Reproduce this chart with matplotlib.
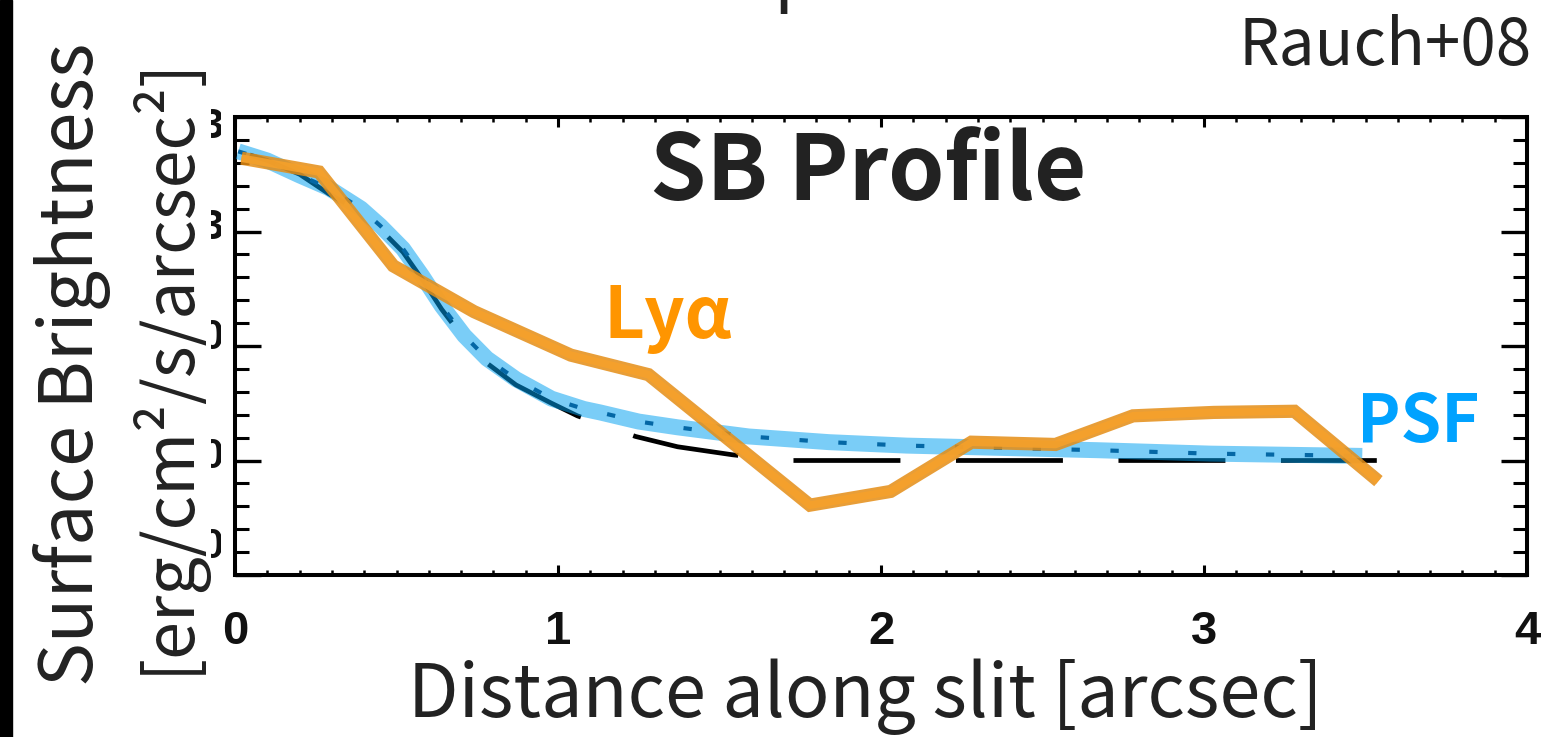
import matplotlib
import matplotlib.pyplot as plt
from matplotlib.patches import Rectangle
from matplotlib.transforms import Bbox

matplotlib.use("Agg")
plt.rcParams["lines.scale_dashes"] = False

W, H = 1542, 737
TEXT_FONT = ["Noto Sans CJK JP", "DejaVu Sans"]
TICK_FONT = ["Liberation Sans", "DejaVu Sans"]
INK = "#222222"

# Lya surface brightness profile (arbitrary log units on the y axis)
lya_x = [0.02, 0.26, 0.49, 0.74, 1.04, 1.28, 1.53, 1.78, 2.03, 2.28, 2.54, 2.78, 3.03, 3.28, 3.54]
lya_y = [3.64, 3.52, 2.70, 2.30, 1.92, 1.75, 1.18, 0.61, 0.73, 1.16, 1.14, 1.39, 1.42, 1.43, 0.82]

# PSF profile
psf_x = [0.01, 0.10, 0.20, 0.29, 0.39, 0.45, 0.52, 0.58, 0.64, 0.71, 0.78, 0.87, 0.98,
         1.08, 1.13, 1.25, 1.37, 1.59, 1.84, 2.08, 2.67, 3.02, 3.49]
psf_y = [3.70, 3.62, 3.49, 3.38, 3.20, 3.05, 2.85, 2.61, 2.35, 2.09, 1.89, 1.71, 1.54,
         1.45, 1.42, 1.34, 1.29, 1.21, 1.16, 1.13, 1.09, 1.06, 1.04]

# model profile (long dashes)
model_x = [0.01, 0.10, 0.20, 0.29, 0.39, 0.45, 0.52, 0.58, 0.64, 0.71, 0.78, 0.87, 0.98,
           1.06, 1.24, 1.37, 1.54, 1.70, 3.535]
model_y = [3.70, 3.62, 3.50, 3.33, 3.17, 3.02, 2.82, 2.58, 2.32, 2.06, 1.85, 1.66, 1.50,
           1.39, 1.21, 1.12, 1.05, 1.00, 1.00]

x_ticks = [0, 1, 2, 3, 4]
x_tick_labels = ["0", "1", "2", "3", "4"]
y_ticks = [0, 1, 2, 3, 4]
# y tick labels survive only as cropped slivers at the left edge of the frame
y_label_stubs = ["3", "3", "0", "0", "0"]
y_label_rows = [127, 228, 338, 457, 547]


def fx(px):
    return px / W


def fy(py):
    return 1 - py / H


fig = plt.figure(figsize=(W / 100, H / 100), dpi=100)
fig.patches.append(Rectangle((0, 0), fx(12), 1, transform=fig.transFigure, color="black"))

ax = fig.add_axes([fx(235), fy(575), fx(1527 - 235), (575 - 117) / H])

ax.plot(model_x[::-1], model_y[::-1], color="black", linewidth=3.4,
        linestyle=(8, (77, 40)), solid_capstyle="butt", zorder=2)
ax.plot(psf_x, psf_y, color="#0a2a55", linewidth=3.0,
        linestyle=(0, (6, 22)), zorder=2)
ax.plot(psf_x, psf_y, color="#00a0f0", alpha=0.52, linewidth=11.5,
        solid_capstyle="butt", zorder=3)
ax.plot(lya_x, lya_y, color="#e58d15", alpha=0.85, linewidth=9.5,
        solid_capstyle="butt", solid_joinstyle="miter", zorder=4)
ax.plot(lya_x, lya_y, color="#f7a12a", alpha=0.85, linewidth=5.5,
        solid_capstyle="butt", solid_joinstyle="miter", zorder=5)

ax.set_xlim(0, 4)
ax.set_ylim(0, 4)
ax.set_xticks(x_ticks)
ax.set_xticklabels(x_tick_labels)
ax.set_xticks([i / 10 for i in range(41)], minor=True)
ax.set_yticks(y_ticks)
ax.set_yticklabels([])
ax.set_yticks([i / 5 for i in range(21)], minor=True)

for side in ax.spines.values():
    side.set_linewidth(2.9)
ax.tick_params(axis="both", which="both", direction="in", top=True, right=True, color="black")
ax.tick_params(axis="y", which="major", length=19, width=2.4)
ax.tick_params(axis="y", which="minor", length=10, width=2.2)
ax.tick_params(axis="x", which="major", length=7, width=2.2, pad=25,
               labelsize=34, labelcolor="#111111", labelfontfamily=TICK_FONT[0])
ax.tick_params(axis="x", which="minor", length=3.5, width=1.8)
for lab in ax.get_xticklabels():
    lab.set_fontweight("bold")

clip = Bbox.from_extents(211, 0, 221, H)
for stub, row in zip(y_label_stubs, y_label_rows):
    t = fig.text(fx(223), fy(row), stub, ha="right", va="center", fontsize=30,
                 fontweight="bold", family=TICK_FONT, color="#111111")
    t.set_clip_box(clip)
    t.set_clip_on(True)

fig.text(fx(868), fy(200), "SB Profile", ha="center", va="baseline", fontsize=65,
         fontweight="bold", family=TEXT_FONT, color=INK)
fig.text(fx(603), fy(338), "Lyα", ha="left", va="baseline", fontsize=51,
         fontweight="bold", family=TEXT_FONT, color="#ff9500")
fig.text(fx(1357), fy(442), "PSF", ha="left", va="baseline", fontsize=47,
         fontweight="bold", family=TEXT_FONT, color="#00a2ff")
fig.text(fx(1532), fy(65), "Rauch+08", ha="right", va="baseline", fontsize=46,
         family=TEXT_FONT, color=INK)
# descender of a heading cropped off the top edge
fig.text(fx(773), fy(-3), "p", ha="left", va="baseline", fontsize=53,
         family=TEXT_FONT, color=INK)

fig.text(fx(865), fy(717), "Distance along slit [arcsec]", ha="center", va="baseline",
         fontsize=53, family=TEXT_FONT, color=INK)
fig.text(fx(93), fy(364), "Surface Brightness", ha="center", va="baseline",
         rotation=90, rotation_mode="anchor", fontsize=53, family=TEXT_FONT, color=INK)
fig.text(fx(188), fy(365), "[erg/cm²/s/arcsec²]", ha="center", va="baseline",
         rotation=90, rotation_mode="anchor", fontsize=49, family=TEXT_FONT, color=INK)

fig.savefig("out.png", dpi=100)
